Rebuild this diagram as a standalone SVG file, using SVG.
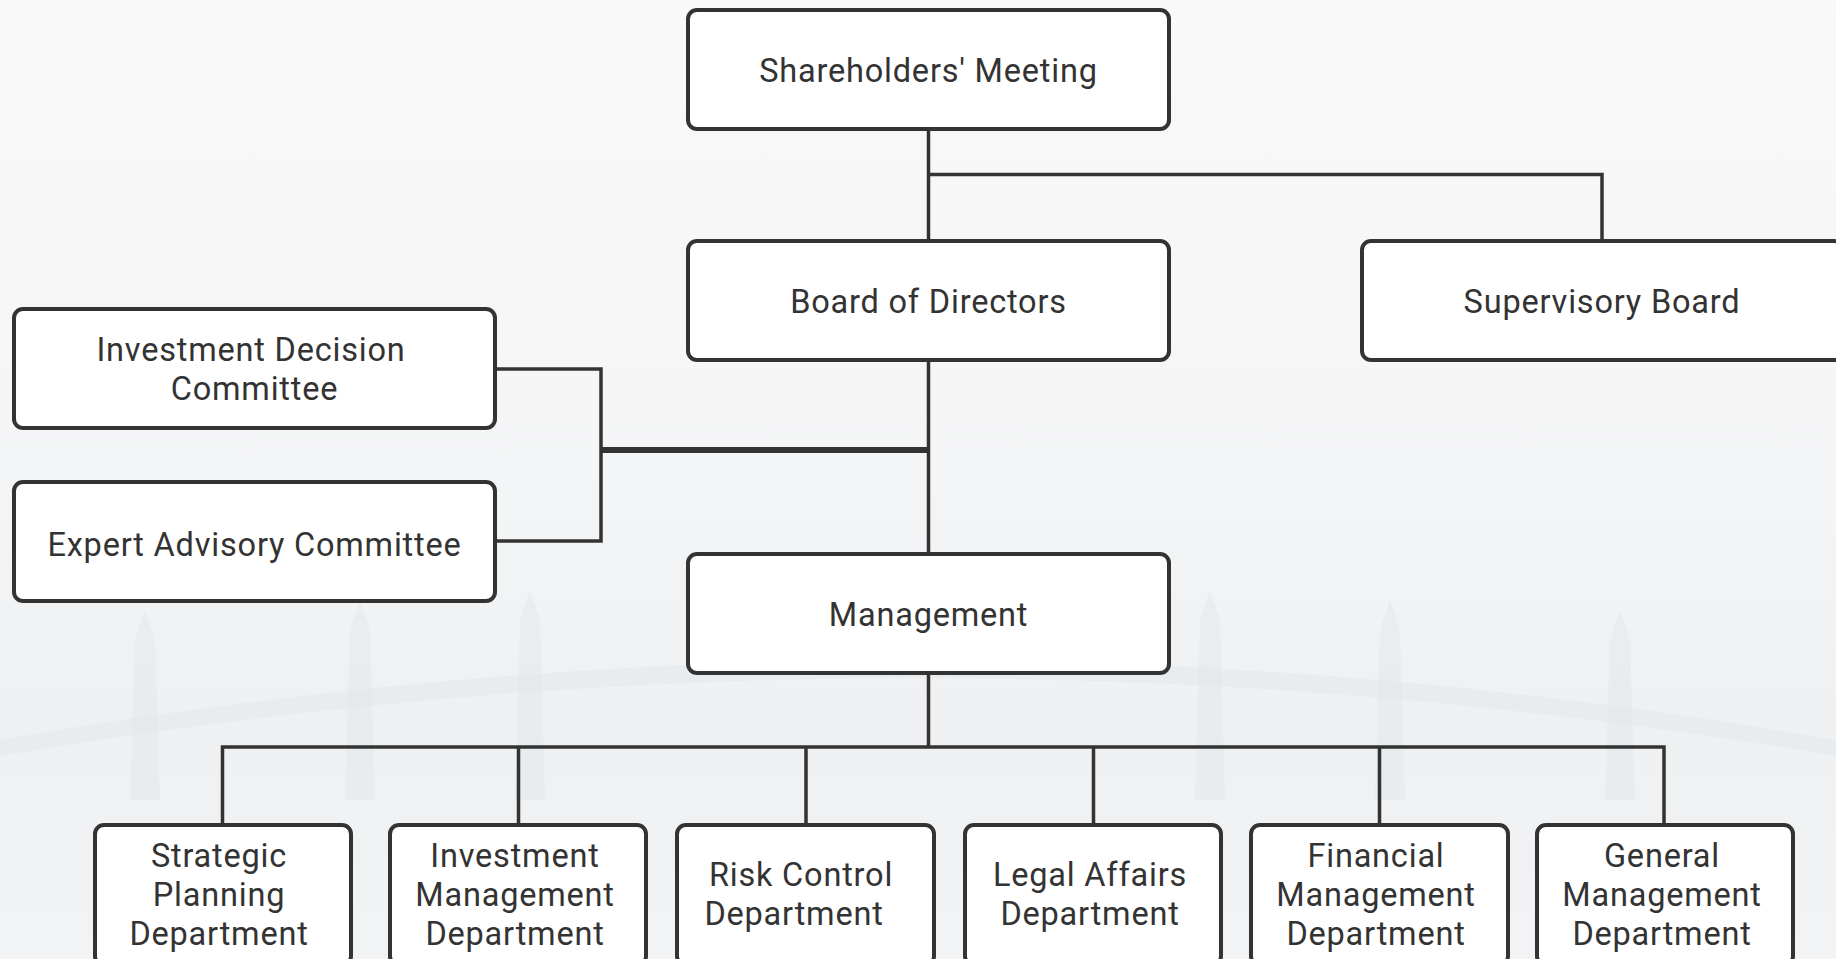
<svg xmlns="http://www.w3.org/2000/svg" width="1836" height="959" viewBox="0 0 1836 959">
<defs>
<linearGradient id="bg" x1="0" y1="0" x2="0" y2="1">
<stop offset="0" stop-color="#f9f9fa"/>
<stop offset="0.5" stop-color="#f4f5f6"/>
<stop offset="0.75" stop-color="#eef0f2"/>
<stop offset="1" stop-color="#f2f3f5"/>
</linearGradient>
<style>
.box{fill:#ffffff;stroke:#333333;stroke-width:4}
.ln{fill:none;stroke:#333333;stroke-width:3.5}
.thick{fill:none;stroke:#333333;stroke-width:6}
.t{font-family:Roboto,"Open Sans","Liberation Sans",sans-serif;font-size:32.5px;letter-spacing:0.8px;fill:#333333;text-anchor:middle}
.ghost{fill:#e3e6e9;opacity:0.45}
</style>
</defs>
<rect x="0" y="0" width="1836" height="959" fill="url(#bg)"/>
<g id="background">
<path class="ghost" d="M0 740 Q 918 580 1836 740 L1836 756 Q 918 600 0 756 Z"/>
<path class="ghost" d="M130 800 L135 640 L145 610 L155 640 L160 800 Z"/>
<path class="ghost" d="M345 800 L350 630 L360 600 L370 630 L375 800 Z"/>
<path class="ghost" d="M515 800 L520 620 L530 590 L540 620 L545 800 Z"/>
<path class="ghost" d="M1195 800 L1200 620 L1210 590 L1220 620 L1225 800 Z"/>
<path class="ghost" d="M1375 800 L1380 630 L1390 600 L1400 630 L1405 800 Z"/>
<path class="ghost" d="M1605 800 L1610 640 L1620 610 L1630 640 L1635 800 Z"/>
</g>
<g id="connectors">
<path class="ln" d="M928.5 129 V240"/>
<path class="ln" d="M928.5 174.5 H1602 V240"/>
<path class="ln" d="M928.5 360 V553"/>
<path class="ln" d="M495 369 H601 V541 H495"/>
<path class="thick" d="M601 450 H928.5"/>
<path class="ln" d="M928.5 673 V747"/>
<path class="ln" d="M222.5 824 V747 H1664 V824"/>
<path class="ln" d="M518.5 747 V824 M806 747 V824 M1093.5 747 V824 M1379.5 747 V824"/>
</g>
<g id="shareholders">
<rect class="box" x="688" y="10" width="481" height="119" rx="9"/>
<text class="t" x="928.5" y="82">Shareholders' Meeting</text>
</g>
<g id="board">
<rect class="box" x="688" y="241" width="481" height="119" rx="9"/>
<text class="t" x="928.5" y="313">Board of Directors</text>
</g>
<g id="supervisory">
<rect class="box" x="1362" y="241" width="481" height="119" rx="9"/>
<text class="t" x="1602" y="313">Supervisory Board</text>
</g>
<g id="idc">
<rect class="box" x="14" y="309" width="481" height="119" rx="9"/>
<text class="t"><tspan x="251" y="361">Investment Decision</tspan><tspan x="254.5" dy="39">Committee</tspan></text>
</g>
<g id="eac">
<rect class="box" x="14" y="482" width="481" height="119" rx="9"/>
<text class="t" x="254.5" y="556">Expert Advisory Committee</text>
</g>
<g id="management">
<rect class="box" x="688" y="554" width="481" height="119" rx="9"/>
<text class="t" x="928.5" y="626">Management</text>
</g>
<g id="strategic">
<rect class="box" x="95" y="825" width="256" height="140" rx="9"/>
<text class="t"><tspan x="219" y="867">Strategic</tspan><tspan x="219" dy="39">Planning</tspan><tspan x="219" dy="39">Department</tspan></text>
</g>
<g id="investment-mgmt">
<rect class="box" x="390" y="825" width="256" height="140" rx="9"/>
<text class="t"><tspan x="515" y="867">Investment</tspan><tspan x="515" dy="39">Management</tspan><tspan x="515" dy="39">Department</tspan></text>
</g>
<g id="risk">
<rect class="box" x="677" y="825" width="257" height="140" rx="9"/>
<text class="t"><tspan x="801" y="886">Risk Control</tspan><tspan x="794" dy="39">Department</tspan></text>
</g>
<g id="legal">
<rect class="box" x="965" y="825" width="256" height="140" rx="9"/>
<text class="t"><tspan x="1090" y="886">Legal Affairs</tspan><tspan x="1090" dy="39">Department</tspan></text>
</g>
<g id="financial">
<rect class="box" x="1251" y="825" width="257" height="140" rx="9"/>
<text class="t"><tspan x="1376" y="867">Financial</tspan><tspan x="1376" dy="39">Management</tspan><tspan x="1376" dy="39">Department</tspan></text>
</g>
<g id="general">
<rect class="box" x="1537" y="825" width="256" height="140" rx="9"/>
<text class="t"><tspan x="1662" y="867">General</tspan><tspan x="1662" dy="39">Management</tspan><tspan x="1662" dy="39">Department</tspan></text>
</g>
</svg>
